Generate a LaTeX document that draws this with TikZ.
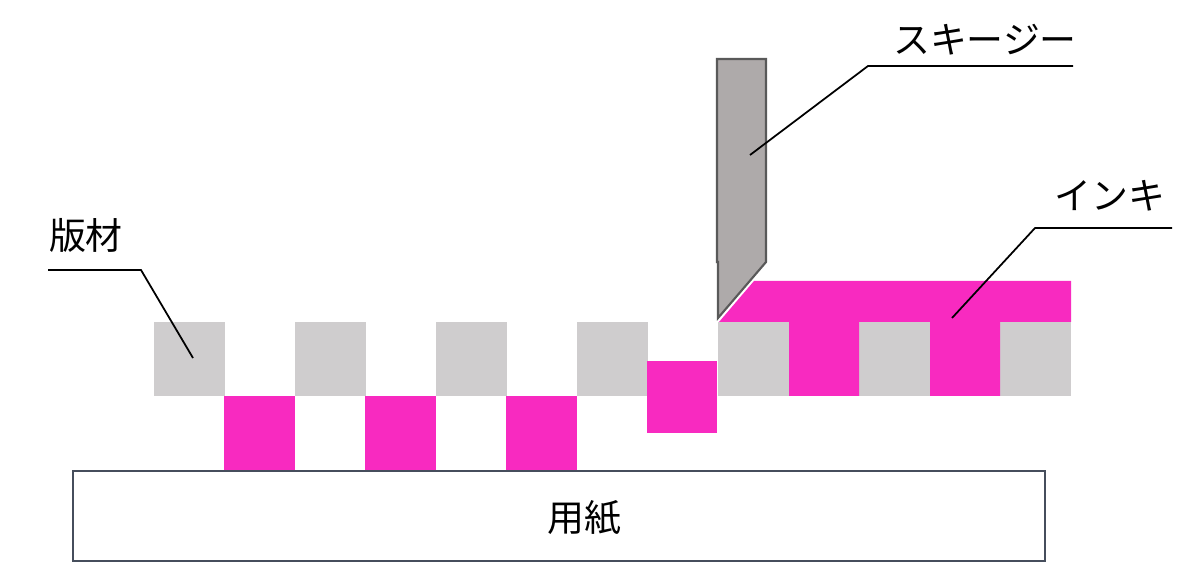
\documentclass[tikz,border=0pt]{standalone}
\usepackage{fontspec}
\newfontfamily\jpfont{Noto Sans CJK JP}
\usetikzlibrary{positioning}
\definecolor{inkcolor}{RGB}{248, 42, 192}
\definecolor{platecolor}{RGB}{207, 205, 206}
\definecolor{bladecolor}{RGB}{174, 170, 170}
\definecolor{edgecolor}{RGB}{89, 89, 89}
\definecolor{papercolor}{RGB}{70, 78, 92}

\begin{document}
\begin{tikzpicture}[
    x=0.02cm, y=-0.02cm,
    plate/.style={fill=platecolor},
    ink/.style={fill=inkcolor},
    blade/.style={fill=bladecolor, draw=edgecolor, line width=1.2pt, line join=miter},
    paper/.style={draw=papercolor, line width=1pt, fill=white},
    label/.style={font=\jpfont\fontsize{21}{24}\selectfont, inner sep=0pt},
    leader/.style={line width=1pt}
]
    \useasboundingbox (0,0) rectangle (1200,587);

    % Plate
    \foreach \x in {154,295,436,577,718,859,1000}
        \fill[plate] (\x,322) rectangle ++(71,74);

    % Ink pushed through
    \foreach \x in {224,365,506}
        \fill[ink] (\x,396) rectangle ++(71,75);
    \fill[ink] (647,361) rectangle (717,433);

    % Ink on the plate
    \fill[ink] (719,322) -- (754,281) -- (1071,281) -- (1071,322) -- (1000,322)
        -- (1000,396) -- (930,396) -- (930,322) -- (859,322) -- (859,396)
        -- (789,396) -- (789,322) -- cycle;

    % Squeegee
    \draw[blade] (717,59) -- (766,59) -- (766,262) -- (718,318) -- (718,262) -- (717,262) -- cycle;

    % Paper
    \draw[paper] (73,471) rectangle (1045,561);
    \node[label] (paper) at (584,518) {用紙};

    % Labels
    \node[label] (plate) at (86,235) {版材};
    \node[label] (blade) at (985,40) {スキージー};
    \node[label] (ink) at (1110,196) {インキ};

    % Leaders
    \coordinate (plate-end) at (193,358);
    \coordinate (blade-end) at (750,155);
    \coordinate (ink-end) at (952,318);
    \draw[leader] (48,270) -- (141,270) -- (plate-end);
    \draw[leader] (1073,66) -- (868,66) -- (blade-end);
    \draw[leader] (1172,228) -- (1035,228) -- (ink-end);
\end{tikzpicture}
\end{document}
